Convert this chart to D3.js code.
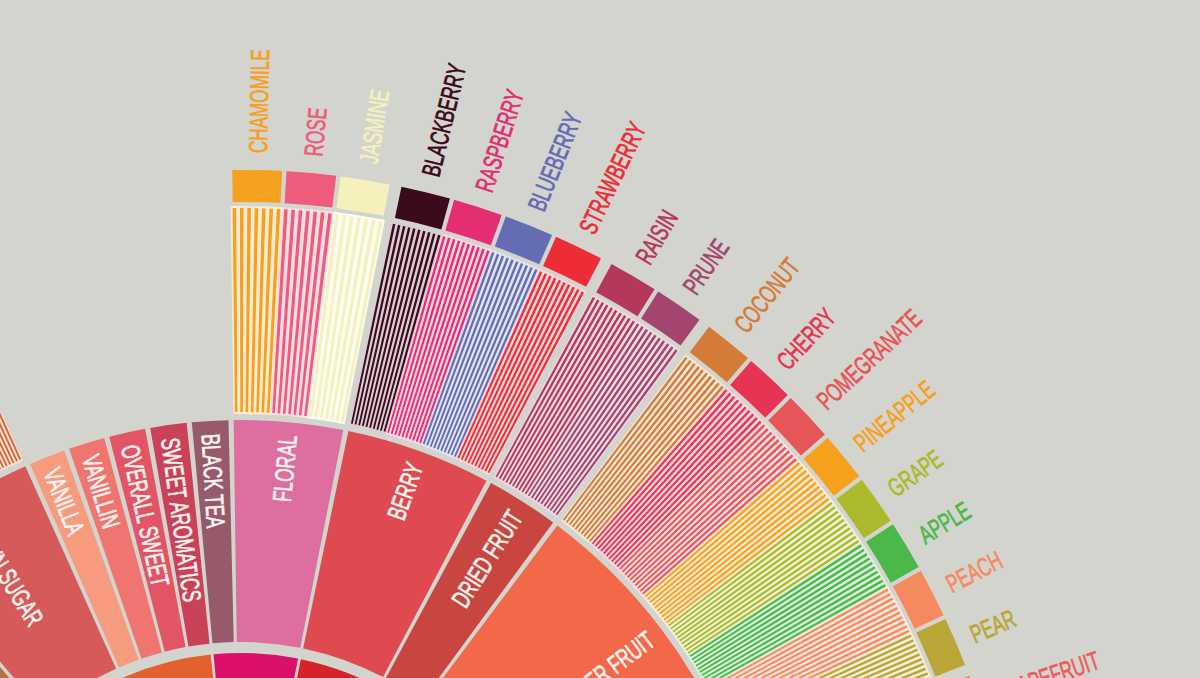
<!DOCTYPE html>
<html>
<head>
<meta charset="utf-8">
<script src="https://cdn.jsdelivr.net/npm/d3@7"></script>
<style>
  html, body { margin: 0; padding: 0; background: #d4d4cf; }
  svg { display: block; }
</style>
</head>
<body>
<div id="wheel"></div>
<script>
// Flavour wheel data (only the part around Sweet / Floral / Fruity)
var tierNames = ["NUTTY/COCOA", "SWEET", "FLORAL", "FRUITY"];

var groupNames = ["COCOA", "BROWN SUGAR", "VANILLA", "VANILLIN", "OVERALL SWEET",
  "SWEET AROMATICS", "BLACK TEA", "FLORAL", "BERRY", "DRIED FRUIT", "OTHER FRUIT", "CITRUS FRUIT"];
var groupTiers = ["NUTTY/COCOA", "SWEET", "SWEET", "SWEET", "SWEET",
  "SWEET", "FLORAL", "FLORAL", "FRUITY", "FRUITY", "FRUITY", "FRUITY"];

var flavourNames = ["CHOCOLATE", "DARK CHOCOLATE",
  "MOLASSES", "MAPLE SYRUP", "CARAMELIZED", "HONEY",
  "CHAMOMILE", "ROSE", "JASMINE",
  "BLACKBERRY", "RASPBERRY", "BLUEBERRY", "STRAWBERRY",
  "RAISIN", "PRUNE",
  "COCONUT", "CHERRY", "POMEGRANATE", "PINEAPPLE", "GRAPE", "APPLE", "PEACH", "PEAR",
  "GRAPEFRUIT", "ORANGE", "LEMON", "LIME"];
var flavourGroups = ["COCOA", "COCOA",
  "BROWN SUGAR", "BROWN SUGAR", "BROWN SUGAR", "BROWN SUGAR",
  "FLORAL", "FLORAL", "FLORAL",
  "BERRY", "BERRY", "BERRY", "BERRY",
  "DRIED FRUIT", "DRIED FRUIT",
  "OTHER FRUIT", "OTHER FRUIT", "OTHER FRUIT", "OTHER FRUIT", "OTHER FRUIT", "OTHER FRUIT", "OTHER FRUIT", "OTHER FRUIT",
  "CITRUS FRUIT", "CITRUS FRUIT", "CITRUS FRUIT", "CITRUS FRUIT"];

// colours
var tierColors = {
  "NUTTY/COCOA": "#a4704e", "SWEET": "#e3612f", "FLORAL": "#d9116b", "FRUITY": "#d8222a"
};
var groupColors = {
  "COCOA": "#b07049", "BROWN SUGAR": "#d65a5a", "VANILLA": "#f69b7d", "VANILLIN": "#f07470",
  "OVERALL SWEET": "#e35467", "SWEET AROMATICS": "#ca4257", "BLACK TEA": "#965a6b",
  "FLORAL": "#de6e9f", "BERRY": "#de4a50", "DRIED FRUIT": "#c8463f",
  "OTHER FRUIT": "#f26849", "CITRUS FRUIT": "#f3c21d"
};
var flavourColors = {
  "CHOCOLATE": "#7b3b29", "DARK CHOCOLATE": "#3f1d17",
  "MOLASSES": "#3b1c17", "MAPLE SYRUP": "#c1602e", "CARAMELIZED": "#cf6e3a", "HONEY": "#d9662e",
  "CHAMOMILE": "#f5a01e", "ROSE": "#ee5b7b", "JASMINE": "#f6f0bd",
  "BLACKBERRY": "#3c0a1d", "RASPBERRY": "#e42d72", "BLUEBERRY": "#646db4", "STRAWBERRY": "#ec2d37",
  "RAISIN": "#b4385a", "PRUNE": "#a3456f",
  "COCONUT": "#d27c37", "CHERRY": "#e63452", "POMEGRANATE": "#e65558", "PINEAPPLE": "#f7a01d",
  "GRAPE": "#acb92d", "APPLE": "#4bb849", "PEACH": "#f68a5e", "PEAR": "#b9a636",
  "GRAPEFRUIT": "#ef5b5a", "ORANGE": "#f7a128", "LEMON": "#f3c81a", "LIME": "#78c143"
};

function createWheel() {
  var w = 1200;
  var h = 678;
  var cx = 241;
  var cy = 947;
  var bg = "#d4d4cf";
  var gapU = 0.14;   // gap between level-2 items, in slot units

  // fonts: prefer a narrow face, otherwise squeeze the regular one
  function hasFont(f) {
    var ctx = document.createElement("canvas").getContext("2d");
    ctx.font = "40px monospace";
    var w0 = ctx.measureText("CHAMOMILE BERRY").width;
    ctx.font = "40px '" + f + "', monospace";
    return ctx.measureText("CHAMOMILE BERRY").width !== w0;
  }
  var narrow = hasFont("Liberation Sans Narrow");
  var font = narrow ? "'Liberation Sans Narrow'" : "'Liberation Sans', Arial";
  var squeeze = narrow ? 0.8 : 0.66;

  // lay out slots: every flavour (or childless group) takes one slot
  var groups = groupNames.map(function (name, i) {
    return { name: name, tier: groupTiers[i], kids: [] };
  });
  flavourNames.forEach(function (name, i) {
    var g = groups.find(function (d) { return d.name === flavourGroups[i]; });
    g.kids.push({ name: name, group: g.name });
  });
  var cursor = 0;
  var leaves = [];
  groups.forEach(function (g) {
    var n = Math.max(1, g.kids.length);
    g.s = cursor;
    g.e = cursor + n;
    g.kids.forEach(function (k, i) {
      k.s = cursor + i;
      k.e = cursor + i + 1;
      leaves.push(k);
    });
    cursor += n + gapU;
  });
  var tiers = tierNames.map(function (name) {
    var gs = groups.filter(function (g) { return g.tier === name; });
    return {
      name: name,
      s: d3.min(gs, function (g) { return g.s; }),
      e: d3.max(gs, function (g) { return g.e; })
    };
  });

  // slot units -> angle (radians, clockwise from 12 o'clock)
  var floralStart = groups.find(function (g) { return g.name === "FLORAL"; }).s;
  var angle = d3.scaleLinear()
    .domain([floralStart, floralStart + 1])
    .range([-0.8 * Math.PI / 180, 3.2 * Math.PI / 180]);

  var svg = d3.select("#wheel").append("svg")
    .attr("width", w)
    .attr("height", h);
  svg.append("rect").attr("width", w).attr("height", h).attr("fill", bg);

  var g0 = svg.append("g").attr("transform", "translate(" + cx + "," + cy + ")");

  // inner ring
  var tierArc = d3.arc().innerRadius(160).outerRadius(294)
    .startAngle(function (d) { return angle(d.s); })
    .endAngle(function (d) { return angle(d.e); });
  g0.selectAll("path.tier").data(tiers).enter().append("path")
    .attr("class", "tier")
    .attr("d", tierArc)
    .attr("fill", function (d) { return tierColors[d.name]; });

  // middle ring
  var groupArc = d3.arc().innerRadius(305).outerRadius(527)
    .startAngle(function (d) { return angle(d.s); })
    .endAngle(function (d) { return angle(d.e); });
  g0.selectAll("path.group").data(groups).enter().append("path")
    .attr("class", "group")
    .attr("d", groupArc)
    .attr("fill", function (d) { return groupColors[d.name]; });

  // striped bands
  var bandArc = d3.arc().innerRadius(533).outerRadius(741)
    .startAngle(function (d) { return angle(d.s); })
    .endAngle(function (d) { return angle(d.e); });
  g0.selectAll("path.band").data(leaves).enter().append("path")
    .attr("class", "band")
    .attr("d", bandArc)
    .attr("fill", function (d) {
      return d3.interpolateRgb(flavourColors[d.name], "#ffffff")(0.8);
    });

  var stripes = [];
  leaves.forEach(function (d) {
    var n = d.group === "FLORAL" ? 7 : 10;
    for (var k = 0; k < n; k++) {
      stripes.push({
        name: d.name,
        s: d.s + (k + 0.26) / n,
        e: d.s + (k + 0.74) / n
      });
    }
  });
  var stripeArc = d3.arc().innerRadius(535).outerRadius(739)
    .startAngle(function (d) { return angle(d.s); })
    .endAngle(function (d) { return angle(d.e); });
  g0.selectAll("path.stripe").data(stripes).enter().append("path")
    .attr("class", "stripe")
    .attr("d", stripeArc)
    .attr("fill", function (d) { return flavourColors[d.name]; });

  // outer boxes
  var boxArc = d3.arc().innerRadius(745).outerRadius(777)
    .startAngle(function (d) { return angle(d.s + 0.04); })
    .endAngle(function (d) { return angle(d.e - 0.04); });
  g0.selectAll("path.box").data(leaves).enter().append("path")
    .attr("class", "box")
    .attr("d", boxArc)
    .attr("fill", function (d) { return flavourColors[d.name]; });

  // radial label transform
  function radial(a, r, inward) {
    var deg = a * 180 / Math.PI - 90;
    var t = "rotate(" + deg + ") translate(" + r + ",0)";
    if (inward) t += " rotate(180)";
    return t + " scale(" + squeeze + ",1)";
  }

  // flavour labels
  g0.selectAll("text.flavour").data(leaves).enter().append("text")
    .attr("class", "flavour")
    .attr("transform", function (d) {
      var a = angle((d.s + d.e) / 2);
      return radial(a, 794, Math.sin(a) < 0);
    })
    .attr("text-anchor", function (d) {
      return Math.sin(angle((d.s + d.e) / 2)) < 0 ? "end" : "start";
    })
    .attr("dy", "0.36em")
    .style("font-family", font)
    .style("font-size", "26px")
    .attr("fill", function (d) { return flavourColors[d.name]; })
    .attr("stroke", function (d) { return flavourColors[d.name]; })
    .attr("stroke-width", 0.7)
    .text(function (d) { return d.name; });

  // group labels
  g0.selectAll("text.group").data(groups).enter().append("text")
    .attr("class", "group")
    .attr("transform", function (d) {
      var a = angle((d.s + d.e) / 2);
      return radial(a, 514, Math.sin(a) < 0);
    })
    .attr("text-anchor", function (d) {
      return Math.sin(angle((d.s + d.e) / 2)) < 0 ? "start" : "end";
    })
    .attr("dy", "0.36em")
    .style("font-family", font)
    .style("font-size", "26px")
    .attr("fill", "#fdf3ef")
    .attr("stroke", "#fdf3ef")
    .attr("stroke-width", 0.7)
    .text(function (d) { return d.name; });

  // tier labels (sit below the visible part of the inner ring)
  g0.selectAll("text.tier").data(tiers).enter().append("text")
    .attr("class", "tier")
    .attr("transform", function (d) {
      var a = angle((d.s + d.e) / 2);
      return radial(a, 240, Math.sin(a) < 0);
    })
    .attr("text-anchor", function (d) {
      return Math.sin(angle((d.s + d.e) / 2)) < 0 ? "start" : "end";
    })
    .attr("dy", "0.36em")
    .style("font-family", font)
    .style("font-size", "26px")
    .attr("fill", "#fdf3ef")
    .text(function (d) { return d.name; });
}

createWheel();
</script>
</body>
</html>
